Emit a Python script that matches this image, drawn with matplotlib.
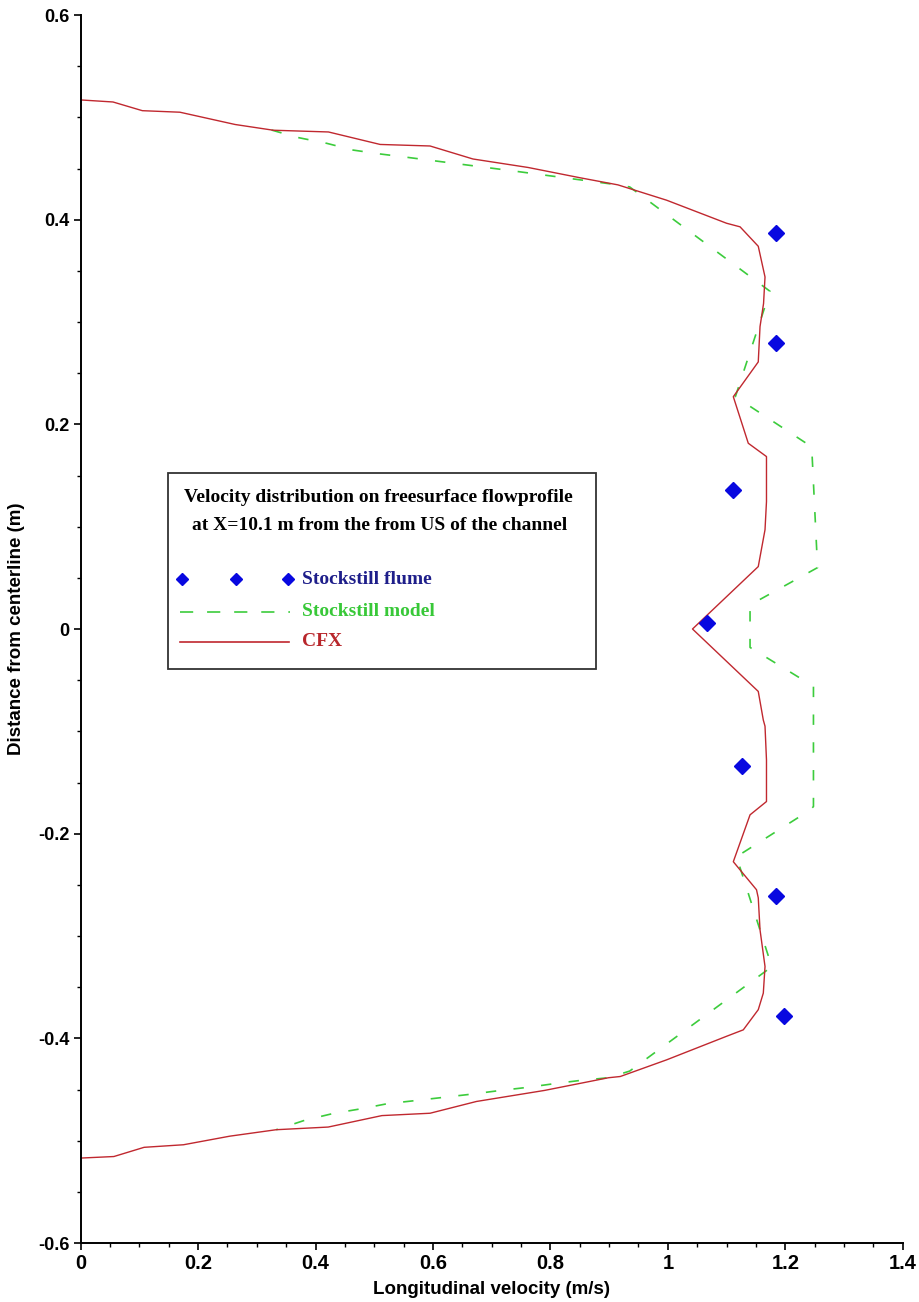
import numpy as np
import matplotlib
matplotlib.use("Agg")
import matplotlib.pyplot as plt
from matplotlib.lines import Line2D
from matplotlib.patches import Rectangle
from matplotlib.ticker import MultipleLocator, FuncFormatter

plt.rcParams['lines.scale_dashes'] = False

# --- data ---
# CFX profile (velocity, distance from centerline), top to bottom
cfx_v = [0.0, 0.055, 0.105, 0.169, 0.263, 0.328, 0.422, 0.51, 0.595, 0.668,
         0.762, 0.85, 0.915, 0.998, 1.100, 1.123, 1.154, 1.1655, 1.163, 1.157,
         1.154, 1.1115, 1.137, 1.168, 1.168, 1.1655, 1.154, 1.042, 1.154, 1.1626,
         1.1655, 1.168, 1.168, 1.140, 1.1115, 1.151, 1.154, 1.157, 1.1655, 1.1626,
         1.154, 1.1285, 1.100, 0.998, 0.919, 0.899, 0.79, 0.674, 0.595, 0.513,
         0.4215, 0.333, 0.254, 0.175, 0.108, 0.0565, 0.0]
cfx_y = [0.517, 0.515, 0.5065, 0.505, 0.493, 0.4874, 0.4857, 0.4735, 0.472, 0.4593,
         0.451, 0.441, 0.434, 0.419, 0.3965, 0.393, 0.374, 0.344, 0.318, 0.2955,
         0.261, 0.227, 0.1815, 0.1685, 0.1245, 0.097, 0.061, 0.0, -0.061, -0.089,
         -0.095, -0.128, -0.1686, -0.1816, -0.2274, -0.2548, -0.2627, -0.294, -0.3298, -0.3558,
         -0.372, -0.3917, -0.398, -0.421, -0.4373, -0.4385, -0.4509, -0.4617, -0.4732, -0.4755,
         -0.4867, -0.4893, -0.4956, -0.504, -0.5065, -0.5155, -0.517]

# Stockstill model (numerical)
model_v = [0.325, 0.368, 0.419, 0.464, 0.51, 0.555, 0.737, 0.915, 0.935, 1.174,
           1.115, 1.245, 1.255, 1.14, 1.14, 1.248, 1.248, 1.242, 1.117, 1.177,
           0.935, 0.899, 0.850, 0.808, 0.7596, 0.711, 0.668, 0.619, 0.5705, 0.522,
           0.479, 0.4295, 0.382, 0.333]
model_y = [0.4876, 0.4805, 0.4746, 0.468, 0.4642, 0.461, 0.4476, 0.434, 0.432, 0.33,
           0.227, 0.178, 0.06, 0.0235, -0.018, -0.056, -0.1735, -0.177, -0.2225, -0.33,
           -0.432, -0.4385, -0.4412, -0.4442, -0.448, -0.4512, -0.4544, -0.4576, -0.4608, -0.4639,
           -0.4687, -0.4735, -0.480, -0.4893]

# Stockstill flume measurements
flume_v = [1.184, 1.184, 1.1115, 1.0672, 1.1257, 1.184, 1.198]
flume_y = [0.387, 0.279, 0.136, 0.0056, -0.1334, -0.2608, -0.3786]

legend_title = ["Velocity distribution on freesurface flowprofile",
                "at X=10.1 m from the from US of the channel"]
legend_labels = ["Stockstill flume", "Stockstill model", "CFX"]

red = '#c0282f'
green = '#3ccc3c'
blue = '#0808e0'

fig = plt.figure(figsize=(9.19, 13.02), dpi=100)
ax = fig.add_axes([80.7 / 919, 1 - 1243 / 1302, 822 / 919, 1228 / 1302])

ax.plot(model_v, model_y, color=green, lw=1.2, linestyle=(0, (7.5, 12.5)))
ax.plot(cfx_v, cfx_y, color=red, lw=1.0)
ax.plot(flume_v, flume_y, linestyle='none', marker='D', markersize=8,
        color=blue, markeredgecolor=blue)

ax.set_xlim(0, 1.4)
ax.set_ylim(-0.6, 0.6)

# axes look: only left and bottom spines
for s in ['top', 'right']:
    ax.spines[s].set_visible(False)
for s in ['left', 'bottom']:
    ax.spines[s].set_linewidth(1.4)
    ax.spines[s].set_color('black')

ax.xaxis.set_major_locator(MultipleLocator(0.2))
ax.xaxis.set_minor_locator(MultipleLocator(0.05))
ax.yaxis.set_major_locator(MultipleLocator(0.2))
ax.yaxis.set_minor_locator(MultipleLocator(0.05))

fmt = FuncFormatter(lambda v, p: '0' if abs(v) < 1e-9 else ('%g' % round(v, 2)))
ax.xaxis.set_major_formatter(fmt)
ax.yaxis.set_major_formatter(fmt)

sans = ['Liberation Sans', 'DejaVu Sans']
ax.tick_params(which='major', direction='out', length=5, width=1.2, pad=3)
ax.tick_params(which='minor', direction='out', length=3, width=1.0)
ax.tick_params(axis='x', labelsize=14.5)
ax.tick_params(axis='y', labelsize=13)
for lbl in ax.get_xticklabels() + ax.get_yticklabels():
    lbl.set_family(sans)
    lbl.set_fontweight('bold')

label_font = dict(family=sans, fontweight='bold', fontsize=13.5)
ax.set_xlabel('Longitudinal velocity (m/s)', **label_font)
ax.set_ylabel('Distance from centerline (m)', **label_font)
ax.xaxis.set_label_coords(0.5, -0.031)
ax.yaxis.set_label_coords(-0.068, 0.5)

# --- hand-built legend box, as in the original ---
def to_ax(px, py):
    return (px - 80.7) / 822, (1243 - py) / 1228

x0, y0 = to_ax(168, 669)
x1, y1 = to_ax(596, 473)
ax.add_patch(Rectangle((x0, y0), x1 - x0, y1 - y0, transform=ax.transAxes,
                       facecolor='white', edgecolor='#333333', lw=1.3, zorder=5))

serif = ['Liberation Serif', 'DejaVu Serif']
tx, ty = to_ax(378, 498)
ax.text(tx, ty, legend_title[0], transform=ax.transAxes, ha='center', va='center',
        family=serif, fontweight='bold', fontsize=14, zorder=6)
tx, ty = to_ax(380, 525)
ax.text(tx, ty, legend_title[1], transform=ax.transAxes, ha='center', va='center',
        family=serif, fontweight='bold', fontsize=14, zorder=6)

text_x = to_ax(302, 0)[0]
# flume row
_, ry = to_ax(0, 579)
mx = [to_ax(p, 0)[0] for p in (182, 236, 288)]
ax.add_line(Line2D(mx, [ry] * 3, transform=ax.transAxes, linestyle='none', marker='D',
                   markersize=6.5, color=blue, zorder=6))
ax.text(text_x, ry, legend_labels[0], transform=ax.transAxes, va='center', ha='left',
        family=serif, fontweight='bold', fontsize=14, color='#1e1e8a', zorder=6)
# model row
_, ry = to_ax(0, 612)
lx = [to_ax(180, 0)[0], to_ax(290, 0)[0]]
ax.add_line(Line2D(lx, [ry] * 2, transform=ax.transAxes, color=green, lw=1.2,
                   linestyle=(0, (9.5, 10)), zorder=6))
ax.text(text_x, ry, legend_labels[1], transform=ax.transAxes, va='center', ha='left',
        family=serif, fontweight='bold', fontsize=14, color='#38c838', zorder=6)
# CFX row
_, ry = to_ax(0, 642)
lx = [to_ax(180, 0)[0], to_ax(289, 0)[0]]
ax.add_line(Line2D(lx, [ry] * 2, transform=ax.transAxes, color=red, lw=1.2, zorder=6))
ax.text(text_x, ry, legend_labels[2], transform=ax.transAxes, va='center', ha='left',
        family=serif, fontweight='bold', fontsize=14, color='#b8262b', zorder=6)

fig.savefig('out.png', dpi=100)
